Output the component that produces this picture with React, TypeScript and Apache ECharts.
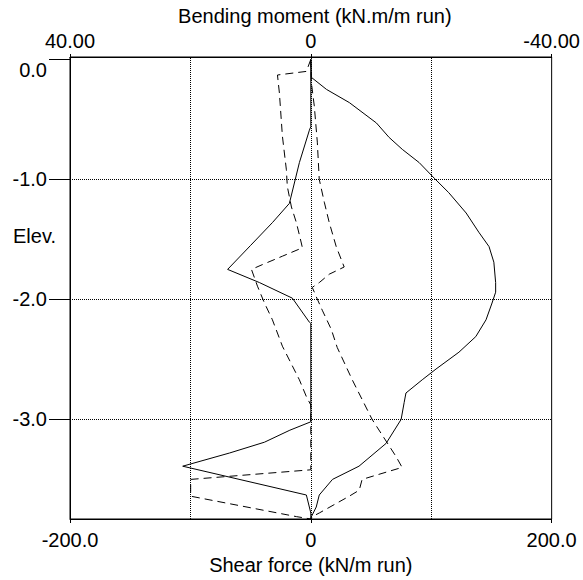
import React, { useEffect, useRef } from 'react';
import * as echarts from 'echarts';

// Tick labels
const elevTicks = [0, -1, -2, -3];
const shearTicks = [-200, 0, 200];
const momentTicks = [40, 0, -40];
const shearGridLines = [-100, 0, 100];
const elevGridLines = [-1, -2, -3];

// Bending moment (kN.m/m run) : [moment, elevation]
const bendingMoment = [
  [0, 0], [-0.1, -0.15], [-2.6, -0.25], [-6.4, -0.36], [-10.9, -0.53], [-13, -0.65],
  [-15.2, -0.75], [-18, -0.86], [-20.5, -0.99], [-22.9, -1.11], [-25.8, -1.28],
  [-27.9, -1.44], [-29.6, -1.56], [-30.4, -1.69], [-30.7, -1.86], [-30.7, -1.94],
  [-30.1, -2.03], [-29.1, -2.17], [-27.4, -2.31], [-24.6, -2.44], [-20.8, -2.58],
  [-18.5, -2.67], [-15.8, -2.78], [-15.5, -2.86], [-15, -3.0], [-12.5, -3.2],
  [-8, -3.39], [-3.6, -3.5], [-1.4, -3.63], [-0.9, -3.73], [-0.1, -3.81], [0, -3.83],
];

// Shear force (kN/m run) : [shear, elevation]
const shearForce = [
  [0, 0], [0, -0.56], [-1.2, -0.59], [-9.5, -0.86], [-17.8, -1.2], [-31.9, -1.36],
  [-50, -1.55], [-69.1, -1.75], [-42.6, -1.86], [-15.3, -1.99], [-1.2, -2.19],
  [0, -2.2], [0, -3.02], [-17.4, -3.09], [-38.5, -3.19], [-67.5, -3.28],
  [-106.4, -3.39], [-3.7, -3.63], [0, -3.78], [0, -3.83],
];

// Dashed envelope (left)
const envelopeLeft = [
  [0, 0], [-3.7, -0.1], [-27.7, -0.13], [-26.1, -0.28], [-23.6, -0.64], [-20.3, -0.92],
  [-19.5, -1.06], [-16.1, -1.23], [-12, -1.36], [-7.9, -1.53], [-7, -1.57],
  [-23.6, -1.64], [-40.2, -1.71], [-49.3, -1.75], [-44.3, -1.89], [-38.5, -2.03],
  [-31.9, -2.17], [-23.6, -2.39], [-9.5, -2.67], [-3.7, -2.81], [0, -2.88],
  [0, -3.42], [-99.8, -3.5], [-99.8, -3.64], [-12, -3.81], [0, -3.83],
];

// Dashed envelope (right)
const envelopeRight = [
  [0, 0], [0.4, -0.19], [2.9, -0.39], [5.4, -0.69], [7, -1.0], [11.2, -1.19],
  [15.3, -1.36], [21.1, -1.56], [27.7, -1.73], [15.3, -1.79], [7, -1.86], [1.2, -1.9],
  [4.6, -1.98], [9.5, -2.09], [17, -2.25], [21.9, -2.4], [34.4, -2.67], [50.9, -3.0],
  [70.8, -3.31], [75.8, -3.4], [62.5, -3.44], [42.6, -3.5], [40.2, -3.59],
  [31.9, -3.64], [7, -3.78], [1.2, -3.81], [0, -3.83],
];

const FONT = 'Liberation Sans';
const FS = 20;

export default function App() {
  const ref = useRef<HTMLDivElement>(null);

  useEffect(() => {
    if (!ref.current) return;
    const chart = echarts.init(ref.current, undefined, { renderer: 'svg' });
    const textStyle = { fontFamily: FONT, fontSize: FS, color: '#000' };
    const gridLineStyle = { color: '#000', type: [1, 1] as number[], width: 1 };

    chart.setOption({
      animation: false,
      backgroundColor: '#fff',
      grid: {
        left: 70, right: 30, top: 57, bottom: 61,
        show: true, borderColor: '#000', borderWidth: 1,
      },
      xAxis: [
        {
          type: 'value', position: 'bottom', min: -200, max: 200, interval: 200,
          name: 'Shear force (kN/m run)', nameLocation: 'middle', nameGap: 29,
          nameTextStyle: textStyle,
          axisLine: { show: true, onZero: false, lineStyle: { color: '#000', width: 1 } },
          axisTick: { show: true, length: 4, customValues: shearTicks, lineStyle: { color: '#000' } },
          axisLabel: {
            ...textStyle, margin: 11, customValues: shearTicks,
            formatter: (v: number) => (v === 0 ? '0' : v.toFixed(1)),
          },
          splitLine: { show: false },
        },
        {
          type: 'value', position: 'top', inverse: true, min: -40, max: 40, interval: 40,
          name: 'Bending moment (kN.m/m run)', nameLocation: 'middle', nameGap: 27,
          nameTextStyle: { ...textStyle, padding: [0, 0, 0, 8] },
          axisLine: { show: true, onZero: false, lineStyle: { color: '#000', width: 1 } },
          axisTick: { show: true, length: 3, customValues: momentTicks, lineStyle: { color: '#000' } },
          axisLabel: {
            ...textStyle, margin: 6, customValues: momentTicks,
            formatter: (v: number) => (v === 0 ? '0' : v.toFixed(2)),
          },
          splitLine: { show: false },
        },
      ],
      yAxis: {
        type: 'value', position: 'left', min: -3.83, max: 0.02,
        axisLine: { show: true, onZero: false, lineStyle: { color: '#000', width: 1 } },
        axisTick: { show: true, length: 21, customValues: elevTicks, lineStyle: { color: '#000' } },
        axisLabel: {
          ...textStyle, margin: 23, customValues: elevTicks,
          formatter: (v: number) => (v === 0 ? '{z|0.0}' : v.toFixed(1)),
          rich: { z: { ...textStyle, padding: [22, 0, 0, 0] } },
        },
        splitLine: { show: false },
      },
      graphic: [
        {
          type: 'text', left: 13, top: 226,
          style: { text: 'Elev.', font: `${FS}px "${FONT}"`, fill: '#000' },
        },
      ],
      series: [
        {
          name: 'grid', type: 'line', xAxisIndex: 0, yAxisIndex: 0, data: [], z: 1,
          silent: true, symbol: 'none',
          markLine: {
            silent: true, symbol: ['none', 'none'], label: { show: false },
            lineStyle: gridLineStyle,
            data: [
              ...shearGridLines.map((v) => ({ xAxis: v })),
              ...elevGridLines.map((v) => ({ yAxis: v })),
            ],
          },
        },
        {
          name: 'Shear force', type: 'line', xAxisIndex: 0, yAxisIndex: 0, z: 3,
          data: shearForce, symbol: 'none', lineStyle: { color: '#000', width: 1 },
        },
        {
          name: 'Bending moment', type: 'line', xAxisIndex: 1, yAxisIndex: 0, z: 3,
          data: bendingMoment, symbol: 'none', lineStyle: { color: '#000', width: 1 },
        },
        {
          name: 'Envelope left', type: 'line', xAxisIndex: 0, yAxisIndex: 0, z: 3,
          data: envelopeLeft, symbol: 'none',
          lineStyle: { color: '#000', width: 1, type: [8, 5] },
        },
        {
          name: 'Envelope right', type: 'line', xAxisIndex: 0, yAxisIndex: 0, z: 3,
          data: envelopeRight, symbol: 'none',
          lineStyle: { color: '#000', width: 1, type: [8, 5] },
        },
      ],
    });
    return () => chart.dispose();
  }, []);

  return (
    <div
      ref={ref}
      style={{ position: 'fixed', left: 0, top: 0, width: 583, height: 580, background: '#fff' }}
    />
  );
}
